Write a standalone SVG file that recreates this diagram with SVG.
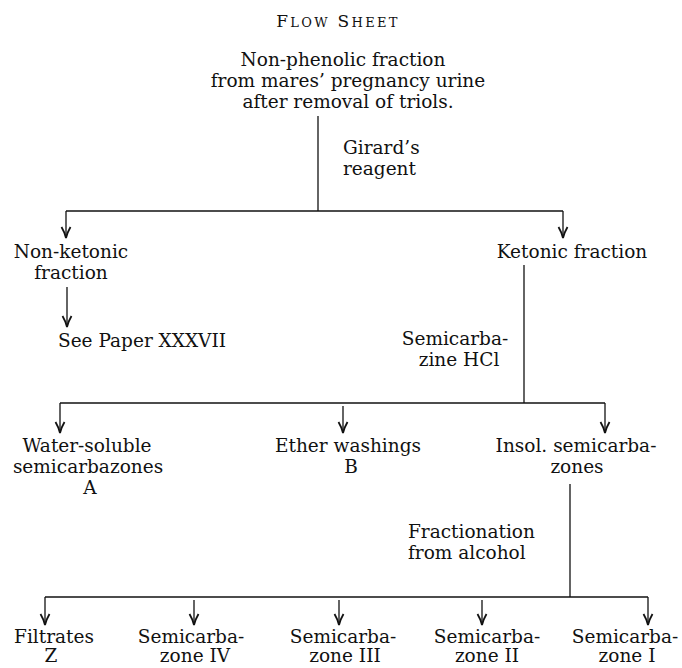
<svg xmlns="http://www.w3.org/2000/svg" width="682" height="668" viewBox="0 0 682 668">
<style>
.t{font-family:"DejaVu Serif","Liberation Serif",serif;font-size:18.5px;fill:#111}
.m{text-anchor:middle}
.c{stroke:#111;stroke-width:1.3;fill:none}
.b{stroke:#111;stroke-width:1.7;fill:none}
.cap{font-size:17px}
.sc{font-size:13px}
</style>
<defs>
<marker id="ah" viewBox="-12 -6 13 12" refX="0" refY="0" markerWidth="13" markerHeight="12" markerUnits="userSpaceOnUse" orient="auto" overflow="visible">
<path d="M-11,-4.5 Q-5,-1 0,0 Q-5,1 -11,4.5" stroke="#111" stroke-width="1.8" fill="none"/>
</marker>
</defs>
<rect width="682" height="668" fill="#fff"/>
<g id="title"><text class="t m" x="338" y="27" letter-spacing="2.3"><tspan class="cap">F</tspan><tspan class="sc">LOW</tspan><tspan class="cap"> S</tspan><tspan class="sc">HEET</tspan></text></g>
<g id="source">
<text class="t m" x="343" y="66">Non-phenolic fraction</text>
<text class="t m" x="348" y="87">from mares’ pregnancy urine</text>
<text class="t m" x="348" y="108">after removal of triols.</text>
</g>
<g id="label-girard">
<text class="t" x="343" y="154">Girard’s</text>
<text class="t" x="343" y="175">reagent</text>
</g>
<g id="non-ketonic">
<text class="t m" x="71" y="258">Non-ketonic</text>
<text class="t m" x="71" y="279">fraction</text>
</g>
<g id="see-paper"><text class="t" x="58" y="347">See Paper XXXVII</text></g>
<g id="ketonic"><text class="t m" x="572" y="258">Ketonic fraction</text></g>
<g id="label-semicarbazine">
<text class="t m" x="455" y="345">Semicarba-</text>
<text class="t m" x="459" y="366">zine HCl</text>
</g>
<g id="water-soluble">
<text class="t m" x="87" y="452">Water-soluble</text>
<text class="t m" x="88" y="473">semicarbazones</text>
<text class="t m" x="90" y="494">A</text>
</g>
<g id="ether">
<text class="t m" x="348" y="452">Ether washings</text>
<text class="t m" x="351" y="473">B</text>
</g>
<g id="insol">
<text class="t m" x="576" y="452">Insol. semicarba-</text>
<text class="t m" x="577" y="473">zones</text>
</g>
<g id="label-fractionation">
<text class="t" x="408" y="538">Fractionation</text>
<text class="t" x="408" y="559">from alcohol</text>
</g>
<g id="filtrates">
<text class="t m" x="54" y="643">Filtrates</text>
<text class="t m" x="51" y="662">Z</text>
</g>
<g id="sc-iv">
<text class="t m" x="191" y="643">Semicarba-</text>
<text class="t m" x="195" y="662">zone IV</text>
</g>
<g id="sc-iii">
<text class="t m" x="343" y="643">Semicarba-</text>
<text class="t m" x="345" y="662">zone III</text>
</g>
<g id="sc-ii">
<text class="t m" x="487" y="643">Semicarba-</text>
<text class="t m" x="487" y="662">zone II</text>
</g>
<g id="sc-i">
<text class="t m" x="625" y="643">Semicarba-</text>
<text class="t m" x="627" y="662">zone I</text>
</g>
<g id="connectors">
<path class="c" d="M318,116 V211"/>
<path class="b" d="M66,211 H563"/>
<path class="c" d="M66,211 V238" marker-end="url(#ah)"/>
<path class="c" d="M563,211 V238" marker-end="url(#ah)"/>
<path class="c" d="M67,287 V327" marker-end="url(#ah)"/>
<path class="c" d="M524,265 V403"/>
<path class="b" d="M60,403 H605"/>
<path class="c" d="M60,403 V433" marker-end="url(#ah)"/>
<path class="c" d="M343,406 V433" marker-end="url(#ah)"/>
<path class="c" d="M605,403 V433" marker-end="url(#ah)"/>
<path class="c" d="M570,484 V597"/>
<path class="b" d="M45,597 H648"/>
<path class="c" d="M45,597 V625" marker-end="url(#ah)"/>
<path class="c" d="M194,600 V625" marker-end="url(#ah)"/>
<path class="c" d="M339,600 V625" marker-end="url(#ah)"/>
<path class="c" d="M482,600 V625" marker-end="url(#ah)"/>
<path class="c" d="M648,597 V625" marker-end="url(#ah)"/>
</g>
</svg>
